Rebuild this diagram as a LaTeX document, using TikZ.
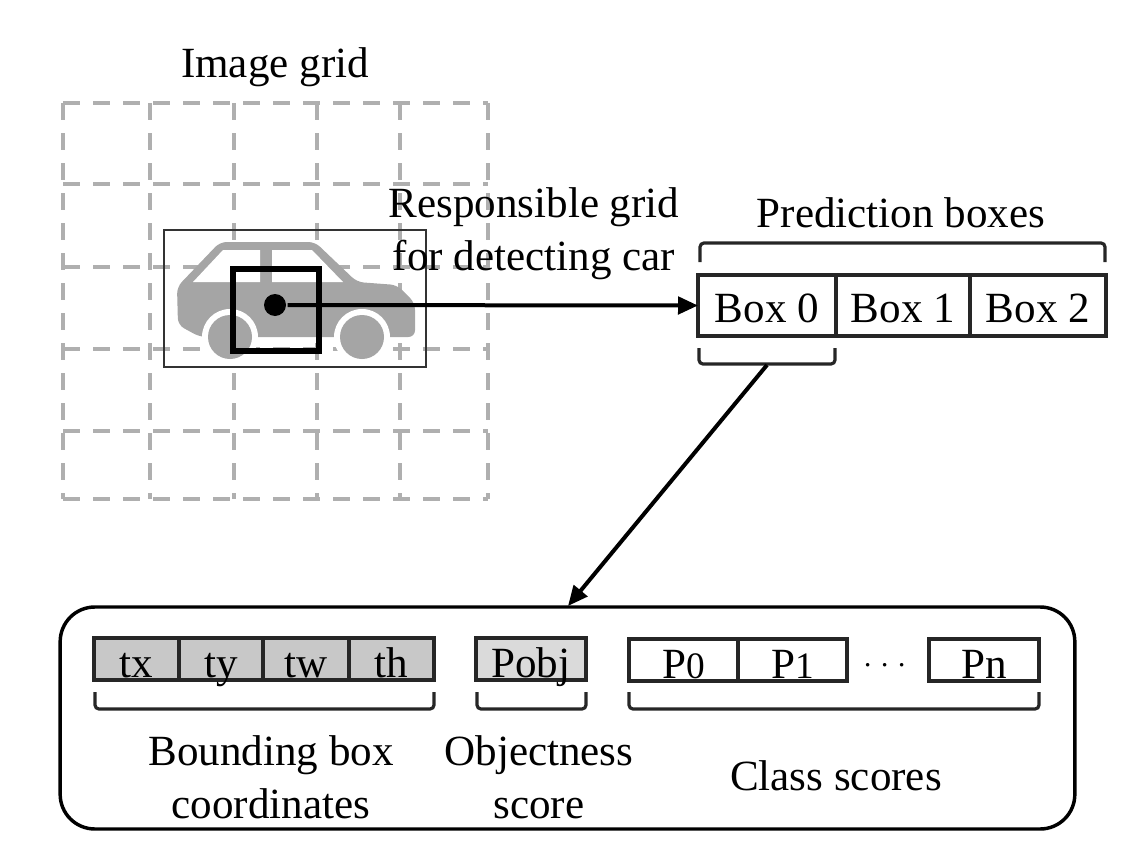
\documentclass[tikz,border=0pt]{standalone}
\usepackage{fontspec}
\setmainfont{Liberation Serif}
\usetikzlibrary{arrows.meta}

\tikzset{every picture/.style={line width=2.4pt}}
\tikzset{
  label/.style={font=\fontsize{32.3}{39.75}\selectfont,inner sep=0.75pt,align=center},
  cell/.style={draw=black!85,font=\fontsize{32.3}{39.75}\selectfont,inner sep=0pt,outer sep=0pt,text depth=0pt},
  boxcell/.style={cell,text height=26pt,minimum height=45.75pt},
  scorecell/.style={cell,text height=27pt,minimum height=31.5pt},
  gridline/.style={draw=gridgray,line width=2.5pt,dash pattern=on 13pt off 9.5pt},
  bracket/.style={draw=black!85,rounded corners=3pt},
  pointer/.style={draw=black,line width=3pt,-{Triangle[length=15pt,width=13pt]}},
}
\definecolor{gridgray}{RGB}{175,175,175}
\definecolor{cargray}{RGB}{165,165,165}
\definecolor{coordgray}{RGB}{200,200,200}
\definecolor{objgray}{RGB}{218,218,218}
\newcommand{\smalldigit}[1]{{\fontsize{28}{30}\selectfont #1}}

\begin{document}
\begin{tikzpicture}[x=0.75pt,y=0.75pt,yscale=-1,xscale=1]
\useasboundingbox (0,0) rectangle (1132,842);

%Image grid
\foreach \gx in {63,150,234,317,400,488}
  \draw [gridline] (\gx,103) -- (\gx,499);
\foreach \gy in {103,184,267,349,431,499}
  \draw [gridline] (63,\gy) -- (488,\gy);

%Car
\fill [cargray, rounded corners=5pt] (177,287) -- (220,242) -- (315,242) -- (357,282) -- (397,285) -- (415,303) -- (415,337) -- (200,337) -- (178,325) -- cycle;
\fill [white] (193,282) -- (223,250) -- (260,250) -- (260,282) -- cycle;
\fill [white] (272,250) -- (312,250) -- (343,282) -- (272,282) -- cycle;
\fill [white] (230,337) circle [radius=28];
\fill [white] (362,337) circle [radius=28];
\fill [cargray] (230,337) circle [radius=22];
\fill [cargray] (362,337) circle [radius=22];
\draw [draw=black!80, line width=1.8pt] (164,230) rectangle (426,367);
\draw [line width=4.5pt] (233,269) rectangle (319,351);

%Dot and prediction boxes
\node (dot) [circle, fill=black, inner sep=0pt, minimum size=16.5pt] at (275,305) {};
\node (box0) [boxcell, minimum width=103.5pt] at (767,305.5) {Box 0};
\node (box1) [boxcell, minimum width=100.5pt] at (903,305.5) {Box 1};
\node (box2) [boxcell, minimum width=102pt] at (1038,305.5) {Box 2};
\draw [bracket] (700,262) -- (700,243) -- (1105,243) -- (1105,262);
\draw [bracket] (699,348) -- (699,364) -- (835,364) -- (835,348);

%Output vector
\node (outer) [draw=black, line width=2.6pt, rounded corners=26pt, minimum width=761pt, minimum height=166.5pt, inner sep=0pt] at (567.5,718) {};
\coordinate (bracetip) at (767,365);
\coordinate (outertop) at (568,606);
\draw [pointer] (dot) -- (box0.west);
\draw [pointer] (bracetip) -- (outertop);

\node (tx) [scorecell, fill=coordgray, minimum width=63.75pt] at (136.5,659) {tx};
\node (ty) [scorecell, fill=coordgray, minimum width=63pt] at (221,659) {ty};
\node (tw) [scorecell, fill=coordgray, minimum width=64.5pt] at (306,659) {tw};
\node (th) [scorecell, fill=coordgray, minimum width=63.75pt] at (391.5,659) {th};
\node (pobj) [scorecell, fill=objgray, minimum width=82.5pt] at (531,659) {Pobj};
\node (p0) [scorecell, minimum width=81.75pt] at (683.5,660) {P\smalldigit{0}};
\node (p1) [scorecell, minimum width=81.75pt] at (792.5,660) {P\smalldigit{1}};
\node (pn) [scorecell, minimum width=82.5pt] at (984,660) {Pn};
\node (dots) [label] at (885,666) {$\cdot\mkern4.3mu{\cdot}\mkern4.3mu{\cdot}$};
\draw [bracket] (95,692) -- (95,709) -- (434,709) -- (434,692);
\draw [bracket] (477,692) -- (477,709) -- (586,709) -- (586,692);
\draw [bracket] (629,692) -- (629,709) -- (1039,709) -- (1039,692);

% Text Node
\node (gridlabel) [label] at (275,67) {Image grid};
\node (resplabel) [label] at (534,234) {Responsible grid\\for detecting car};
\node (predlabel) [label] at (901,213) {Prediction boxes};
\node (bboxlabel) [label] at (271,777) {Bounding box\\coordinates};
\node (objlabel) [label] at (539,777) {Objectness\\score};
\node (classlabel) [label] at (836,776) {Class scores};
\end{tikzpicture}
\end{document}
